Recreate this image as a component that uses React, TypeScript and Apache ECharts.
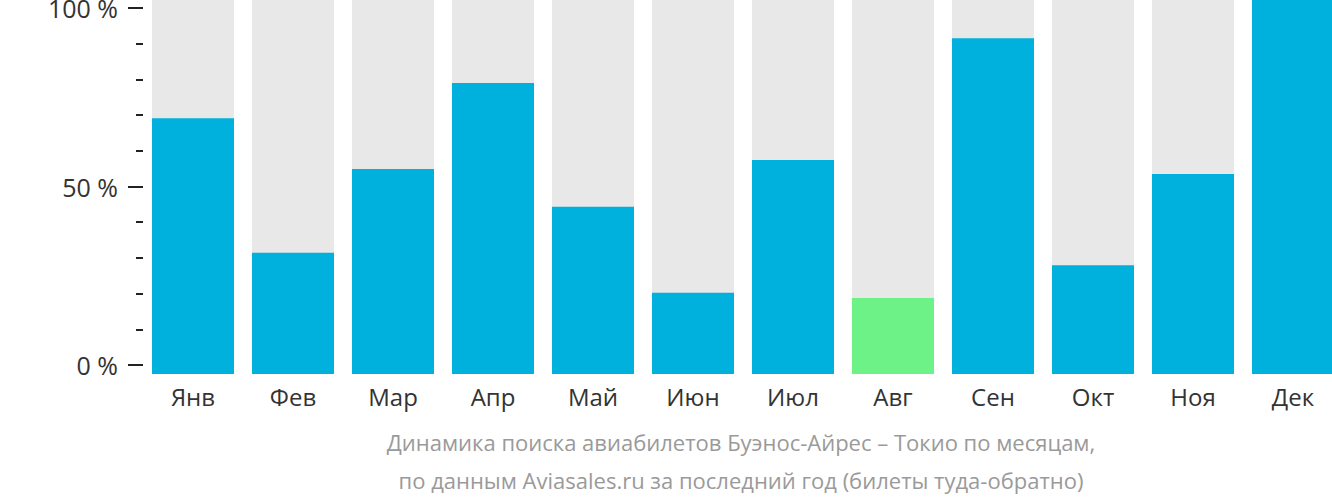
import React, { useEffect, useRef } from "react";
import * as echarts from "echarts";

const months = ["Янв", "Фев", "Мар", "Апр", "Май", "Июн", "Июл", "Авг", "Сен", "Окт", "Ноя", "Дек"];
const values = [68.4, 32.4, 54.8, 77.8, 44.7, 21.7, 57.2, 20.3, 89.8, 29.1, 53.5, 100];
const highlightIndex = 7;
const captionLines = [
  "Динамика поиска авиабилетов Буэнос-Айрес – Токио по месяцам,",
  "по данным Aviasales.ru за последний год (билеты туда-обратно)",
];

const BLUE = "#00B0DD";
const GREEN = "#6DF288";
const GRAY = "#E8E8E8";
const FONT = "'Open Sans', 'Noto Sans', sans-serif";

export default function App() {
  const ref = useRef<HTMLDivElement>(null);
  useEffect(() => {
    if (!ref.current) return;
    const chart = echarts.init(ref.current, null, { renderer: "svg" });
    chart.setOption({
      animation: false,
      textStyle: { fontFamily: FONT },
      grid: [
        { left: 143, width: 1200, top: 8, height: 357, containLabel: false, outerBoundsMode: "none" },
        { left: 143, width: 1200, top: 0, height: 374, containLabel: false, outerBoundsMode: "none" },
      ],
      xAxis: [
        { gridIndex: 0, type: "value", show: false, min: 0, max: 1 },
        {
          gridIndex: 1,
          type: "category",
          data: months,
          axisLine: { show: false },
          axisTick: { show: false },
          axisLabel: { fontSize: 24, color: "#333", margin: 10, fontFamily: FONT },
        },
      ],
      yAxis: [
        {
          gridIndex: 0,
          type: "value",
          min: 0,
          max: 100,
          interval: 50,
          axisLine: { show: false },
          splitLine: { show: false },
          axisTick: { show: true, length: 15, lineStyle: { color: "#222", width: 2 } },
          minorTick: { show: true, splitNumber: 5, length: 7, lineStyle: { color: "#222", width: 2 } },
          minorSplitLine: { show: false },
          axisLabel: { formatter: "{value} %", fontSize: 25, color: "#333", margin: 25, fontFamily: FONT },
        },
        { gridIndex: 1, type: "value", min: 0, max: 100, show: false },
      ],
      series: [
        {
          type: "bar",
          xAxisIndex: 1,
          yAxisIndex: 1,
          barWidth: 82,
          showBackground: true,
          backgroundStyle: { color: GRAY },
          data: values.map((v, i) => ({
            value: v,
            itemStyle: { color: i === highlightIndex ? GREEN : BLUE },
          })),
        },
      ],
      graphic: captionLines.map((line, i) => ({
        type: "text",
        x: 741,
        y: 442 + i * 38,
        style: {
          text: line,
          fill: "#9a9a9a",
          font: `22px ${FONT}`,
          textAlign: "center",
          textVerticalAlign: "middle",
        },
      })),
    });
    return () => chart.dispose();
  }, []);
  return (
    <div style={{ position: "absolute", left: 0, top: 0, width: 1332, height: 502, overflow: "hidden" }}>
      <div ref={ref} style={{ width: 1332, height: 502 }} />
    </div>
  );
}
